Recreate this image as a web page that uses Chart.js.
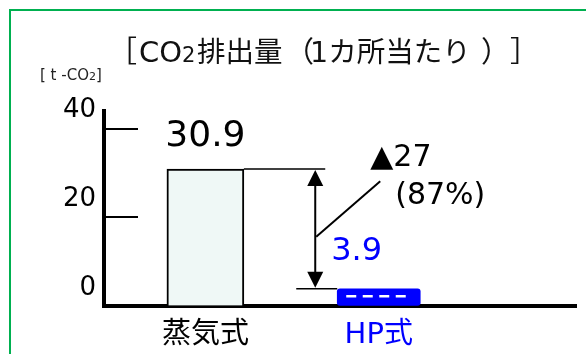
<!DOCTYPE html>
<html><head><meta charset="utf-8">
<script src="https://cdn.jsdelivr.net/npm/chart.js@4.4.1/dist/chart.umd.min.js"></script>
<style>html,body{margin:0;padding:0;background:#fff;overflow:hidden}canvas{display:block}</style>
</head><body>
<canvas id="c" width="586" height="354"></canvas>
<script>
// ---- data ----
const categories = ['蒸気式', 'HP式'];
const values = [30.9, 3.9];
const valueLabels = ['30.9', '3.9'];
const yTicks = [0, 20, 40];
const yTickLabels = ['0', '20', '40'];
const reductionLabel = '▲27';
const reductionPctLabel = '(87%)';
const titleParts = ['［', 'CO', '2', '排出量', '（', '1カ所当たり', '）', '］'];
const unitParts = ['[ t -CO', '2', ']'];

// ---- styles / layout ----
const FONT = '"DejaVu Sans", "Noto Sans CJK JP", sans-serif';
const BLUE = '#0000ff';
const labelColors = ['#000000', BLUE];
const titleX = [128, 140, 183, 197, 305, 313, 482, 510];
const titleSize = [29, 29, 21, 28.5, 29, 28.5, 29, 29];

function drawPieces(ctx, y, texts, xs, sizes, color) {
  ctx.textAlign = 'left';
  ctx.textBaseline = 'alphabetic';
  ctx.fillStyle = color;
  texts.forEach((t, i) => {
    ctx.font = sizes[i] + 'px ' + FONT;
    const m = ctx.measureText(t);
    ctx.fillText(t, xs[i] + m.actualBoundingBoxLeft, y);
  });
}
function drawRuns(ctx, x, y, runs) {
  ctx.textAlign = 'left';
  ctx.textBaseline = 'alphabetic';
  for (const r of runs) {
    ctx.font = r.size + 'px ' + FONT;
    ctx.fillStyle = r.color || '#000';
    ctx.fillText(r.text, x, y);
    x += ctx.measureText(r.text).width;
  }
}
function line(ctx, x1, y1, x2, y2) {
  ctx.beginPath(); ctx.moveTo(x1, y1); ctx.lineTo(x2, y2); ctx.stroke();
}
function head(ctx, x, tipY, dir) {
  ctx.beginPath();
  ctx.moveTo(x, tipY);
  ctx.lineTo(x - 8, tipY + dir * 16);
  ctx.lineTo(x + 8, tipY + dir * 16);
  ctx.closePath(); ctx.fill();
}

const decor = {
  id: 'decor',
  beforeDraw(chart) {
    const c = chart.ctx;
    c.save();
    c.fillStyle = '#fff'; c.fillRect(0, 0, chart.width, chart.height);
    c.strokeStyle = '#00b050'; c.lineWidth = 2;
    c.strokeRect(10, 10, chart.width + 50, chart.height + 50);
    drawPieces(c, 61.5, titleParts, titleX, titleSize, '#111');
    drawRuns(c, 40, 79.5, [
      {text: unitParts[0], size: 15, color: '#222'},
      {text: unitParts[1], size: 11, color: '#222'},
      {text: unitParts[2], size: 15, color: '#222'}
    ]);
    c.restore();
  },
  afterDraw(chart) {
    const c = chart.ctx, ys = chart.scales.y, area = chart.chartArea;
    c.save();
    c.strokeStyle = '#000'; c.lineWidth = 2;
    yTicks.forEach(v => {
      if (v === 0) return;
      const py = Math.round(ys.getPixelForValue(v));
      line(c, area.left + 2, py, area.left + 34, py);
    });
    const b0 = chart.getDatasetMeta(0).data[0];
    const b1 = chart.getDatasetMeta(1).data[0];
    const topY = b0.y, botY = b1.y;
    const b0r = b0.x + b0.width / 2;
    const b1l = b1.x - b1.width / 2, b1r = b1.x + b1.width / 2;
    const ax = b1l - 22;
    // white dashes in HP bar
    c.strokeStyle = '#fff'; c.lineWidth = 2.5; c.setLineDash([10, 6.5]);
    const dy = (botY + area.bottom - 2) / 2;
    line(c, b1l + 9, dy, b1r - 8, dy);
    c.setLineDash([]);
    // difference annotation
    c.strokeStyle = '#000'; c.fillStyle = '#000';
    c.lineWidth = 1.5;
    line(c, b0r, topY, ax + 10, topY);
    line(c, ax - 19, botY, b1l, botY);
    c.lineWidth = 2;
    line(c, ax, topY + 10, ax, botY - 10);
    head(c, ax, topY + 1, 1);
    head(c, ax, botY - 1, -1);
    line(c, ax + 1, topY + 67.7, ax + 65, topY + 12.3);
    // texts
    c.textBaseline = 'alphabetic';
    c.font = '36px ' + FONT; c.textAlign = 'center'; c.fillStyle = '#000';
    c.fillText(valueLabels[0], b0.x, topY - 23);
    c.font = '32px ' + FONT; c.textAlign = 'left'; c.fillStyle = BLUE;
    c.fillText(valueLabels[1], ax + 16, topY + 91);
    c.font = '30px ' + FONT; c.fillStyle = '#000';
    c.fillText(reductionLabel, ax + 55, topY - 3.3);
    c.fillText(reductionPctLabel, ax + 80, topY + 34.5);
    c.restore();
  }
};

new Chart(document.getElementById('c'), {
  type: 'bar',
  data: {
    datasets: [
      {
        data: [{x: 0, y: values[0]}],
        backgroundColor: '#eff8f6', borderColor: '#000', borderWidth: 2,
        barThickness: 77, grouped: false, borderSkipped: 'bottom'
      },
      {
        data: [{x: 1, y: values[1]}],
        backgroundColor: BLUE, borderColor: BLUE, borderWidth: 0,
        barThickness: 83, grouped: false, borderRadius: 3, borderSkipped: false
      }
    ]
  },
  options: {
    responsive: false, animation: false, devicePixelRatio: 1,
    layout: {padding: {left: 0, right: 10, top: 111, bottom: 0}},
    plugins: {legend: {display: false}, tooltip: {enabled: false}, title: {display: false}},
    scales: {
      x: {
        type: 'linear', offset: false, min: -0.585, max: 2.138,
        afterBuildTicks: s => { s.ticks = categories.map((c, i) => ({value: i})); },
        afterFit: s => { s.height = 48; },
        ticks: {
          callback: v => categories[v],
          color: ctx => labelColors[ctx.index],
          font: {size: 29, family: FONT}, padding: 12, maxRotation: 0, autoSkip: false
        },
        grid: {drawOnChartArea: false, drawTicks: false},
        border: {display: true, color: '#000', width: 4}
      },
      y: {
        min: 0, max: 44,
        afterBuildTicks: s => { s.ticks = yTicks.map(v => ({value: v})); },
        afterFit: s => { s.width = 104; },
        ticks: {
          callback: (v, i) => yTickLabels[i],
          color: '#000', font: {size: 26, family: FONT}, padding: 8, labelOffset: -18
        },
        grid: {drawOnChartArea: false, drawTicks: false},
        border: {display: true, color: '#000', width: 4}
      }
    }
  },
  plugins: [decor]
});
</script>
</body></html>
